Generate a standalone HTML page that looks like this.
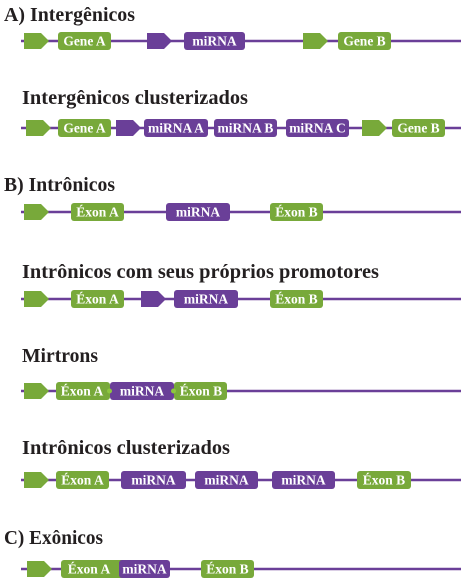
<!DOCTYPE html>
<html><head><meta charset="utf-8"><style>
html,body{margin:0;padding:0;background:#fff;width:464px;height:583px;overflow:hidden}
svg{display:block}
.t{font-family:"Liberation Serif",serif;font-weight:bold;font-size:20px;fill:#231f20}
.l{font-family:"Liberation Serif",serif;font-weight:bold;font-size:13.5px;fill:#fff;text-anchor:middle}
.g{fill:#78a93a}.p{fill:#6a3f98}
line{stroke:#6a3f98;stroke-width:2.5}
</style></head><body>
<svg width="464" height="583" viewBox="0 0 464 583" xmlns="http://www.w3.org/2000/svg">
<defs>
<polygon id="pr" points="0,-8 17,-8 25,0 17,8 0,8"/>
</defs>
<!-- Row 1 -->
<text class="t" x="4" y="21" textLength="131" lengthAdjust="spacingAndGlyphs">A) Intergênicos</text>
<line x1="21" y1="41" x2="461" y2="41"/>
<use href="#pr" class="g" x="24" y="41"/>
<rect class="g" x="58" y="32" width="53" height="18" rx="3"/><text class="l" x="84.5" y="45.5">Gene A</text>
<use href="#pr" class="p" x="147" y="41"/>
<rect class="p" x="184" y="32" width="61" height="18" rx="3"/><text class="l" x="214.5" y="45.5">miRNA</text>
<use href="#pr" class="g" x="303" y="41"/>
<rect class="g" x="338" y="32" width="53" height="18" rx="3"/><text class="l" x="364.5" y="45.5">Gene B</text>
<!-- Row 2 -->
<text class="t" x="22" y="104" textLength="226" lengthAdjust="spacingAndGlyphs">Intergênicos clusterizados</text>
<line x1="21" y1="128" x2="461" y2="128"/>
<use href="#pr" class="g" x="26" y="128"/>
<rect class="g" x="58" y="119" width="53" height="18" rx="3"/><text class="l" x="84.5" y="132.5">Gene A</text>
<use href="#pr" class="p" x="116" y="128"/>
<rect class="p" x="144" y="119" width="64" height="18" rx="3"/><text class="l" x="176" y="132.5">miRNA A</text>
<rect class="p" x="214" y="119" width="63" height="18" rx="3"/><text class="l" x="245.5" y="132.5">miRNA B</text>
<rect class="p" x="286" y="119" width="63" height="18" rx="3"/><text class="l" x="317.5" y="132.5">miRNA C</text>
<use href="#pr" class="g" x="362" y="128"/>
<rect class="g" x="392" y="119" width="53" height="18" rx="3"/><text class="l" x="418.5" y="132.5">Gene B</text>
<!-- Row 3 -->
<text class="t" x="4" y="191" textLength="111" lengthAdjust="spacingAndGlyphs">B) Intrônicos</text>
<line x1="21" y1="212" x2="461" y2="212"/>
<use href="#pr" class="g" x="24" y="212"/>
<rect class="g" x="71" y="203" width="53" height="18" rx="3"/><text class="l" x="97.5" y="216.5">Éxon A</text>
<rect class="p" x="166" y="203" width="64" height="18" rx="3"/><text class="l" x="198" y="216.5">miRNA</text>
<rect class="g" x="270" y="203" width="53" height="18" rx="3"/><text class="l" x="296.5" y="216.5">Éxon B</text>
<!-- Row 4 -->
<text class="t" x="22" y="278" textLength="357" lengthAdjust="spacingAndGlyphs">Intrônicos com seus próprios promotores</text>
<line x1="21" y1="299" x2="461" y2="299"/>
<use href="#pr" class="g" x="24" y="299"/>
<rect class="g" x="71" y="290" width="53" height="18" rx="3"/><text class="l" x="97.5" y="303.5">Éxon A</text>
<use href="#pr" class="p" x="141" y="299"/>
<rect class="p" x="174" y="290" width="64" height="18" rx="3"/><text class="l" x="206" y="303.5">miRNA</text>
<rect class="g" x="270" y="290" width="53" height="18" rx="3"/><text class="l" x="296.5" y="303.5">Éxon B</text>
<!-- Row 5 -->
<text class="t" x="22" y="362" textLength="76" lengthAdjust="spacingAndGlyphs">Mirtrons</text>
<line x1="21" y1="391" x2="461" y2="391"/>
<use href="#pr" class="g" x="24" y="391"/>
<rect class="g" x="56" y="382" width="54" height="18" rx="3"/><text class="l" x="82" y="395.5">Éxon A</text>
<rect class="p" x="110" y="382" width="64" height="18" rx="3"/><text class="l" x="142" y="395.5">miRNA</text>
<rect class="g" x="174" y="382" width="53" height="18" rx="3"/><text class="l" x="201" y="395.5">Éxon B</text>
<circle cx="109.5" cy="391" r="2.5" fill="#8dc63f"/><circle cx="173.5" cy="391" r="2.5" fill="#8dc63f"/>
<!-- Row 6 -->
<text class="t" x="22" y="454" textLength="208" lengthAdjust="spacingAndGlyphs">Intrônicos clusterizados</text>
<line x1="21" y1="480" x2="461" y2="480"/>
<use href="#pr" class="g" x="24" y="480"/>
<rect class="g" x="56" y="471" width="53" height="18" rx="3"/><text class="l" x="82.5" y="484.5">Éxon A</text>
<rect class="p" x="121" y="471" width="65" height="18" rx="3"/><text class="l" x="153.5" y="484.5">miRNA</text>
<rect class="p" x="195" y="471" width="63" height="18" rx="3"/><text class="l" x="226.5" y="484.5">miRNA</text>
<rect class="p" x="272" y="471" width="63" height="18" rx="3"/><text class="l" x="303.5" y="484.5">miRNA</text>
<rect class="g" x="357" y="471" width="54" height="18" rx="3"/><text class="l" x="384" y="484.5">Éxon B</text>
<!-- Row 7 -->
<text class="t" x="4" y="544" textLength="99" lengthAdjust="spacingAndGlyphs">C) Exônicos</text>
<line x1="21" y1="569" x2="461" y2="569"/>
<use href="#pr" class="g" x="27" y="569"/>
<rect class="g" x="61" y="560" width="67" height="18" rx="3"/><text class="l" x="89" y="573.5">Éxon A</text>
<rect class="p" x="119" y="560" width="51" height="18" rx="3"/><text class="l" x="144.5" y="573.5">miRNA</text>
<rect class="g" x="201" y="560" width="53" height="18" rx="3"/><text class="l" x="227.5" y="573.5">Éxon B</text>
</svg>
</body></html>
